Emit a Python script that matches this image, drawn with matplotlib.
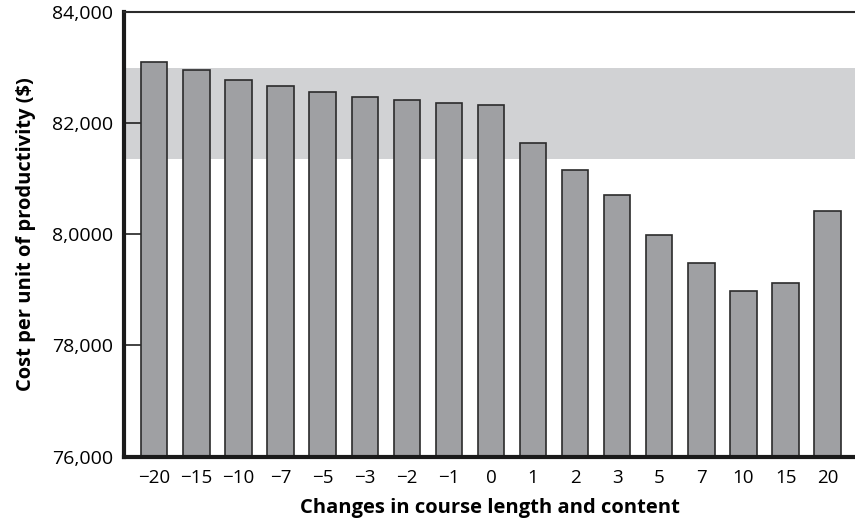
import matplotlib.pyplot as plt

# data
changes = ["\u221220", "\u221215", "\u221210", "\u22127", "\u22125", "\u22123", "\u22122", "\u22121",
           "0", "1", "2", "3", "5", "7", "10", "15", "20"]
cost = [83100, 82960, 82770, 82660, 82560, 82465, 82420, 82370,
        82320, 81650, 81160, 80715, 79980, 79480, 78980, 79125, 80420]
band_low, band_high = 81360, 82995
y_ticks = [76000, 78000, 80000, 82000, 84000]
y_tick_labels = ["76,000", "78,000", "8,0000", "82,000", "84,000"]

plt.rcParams['font.family'] = ['Open Sans', 'DejaVu Sans']

fig = plt.figure(figsize=(8.55, 5.2), dpi=100)
ax = fig.add_axes([0.145, 0.122, 0.855, 0.855])

ax.axhspan(band_low, band_high, color='#D1D2D4', zorder=0, lw=0)
x = list(range(len(changes)))
ax.bar(x, cost, width=0.625, color='#9FA0A3', edgecolor='#2b2b2b', linewidth=1.2, zorder=2)

ax.set_ylim(76000, 84000)
ax.set_xlim(-0.72, 16.65)
ax.set_yticks(y_ticks)
ax.set_yticklabels(y_tick_labels)
ax.set_xticks(x)
ax.set_xticklabels(changes)

ax.tick_params(axis='y', direction='in', length=14, width=1.2, color='#222', labelsize=14, pad=8)
ax.tick_params(axis='x', length=0, labelsize=13.5, pad=9)

for side in ['left', 'bottom']:
    ax.spines[side].set_linewidth(3)
    ax.spines[side].set_color('#1a1a1a')
ax.spines['top'].set_linewidth(1.5)
ax.spines['top'].set_color('#2b2b2b')
ax.spines['right'].set_visible(False)

ax.set_xlabel("Changes in course length and content", fontsize=14.5, fontweight='bold', labelpad=8)
ax.set_ylabel("Cost per unit of productivity ($)", fontsize=14.5, fontweight='bold', labelpad=11)

fig.savefig("out.png", dpi=100)
